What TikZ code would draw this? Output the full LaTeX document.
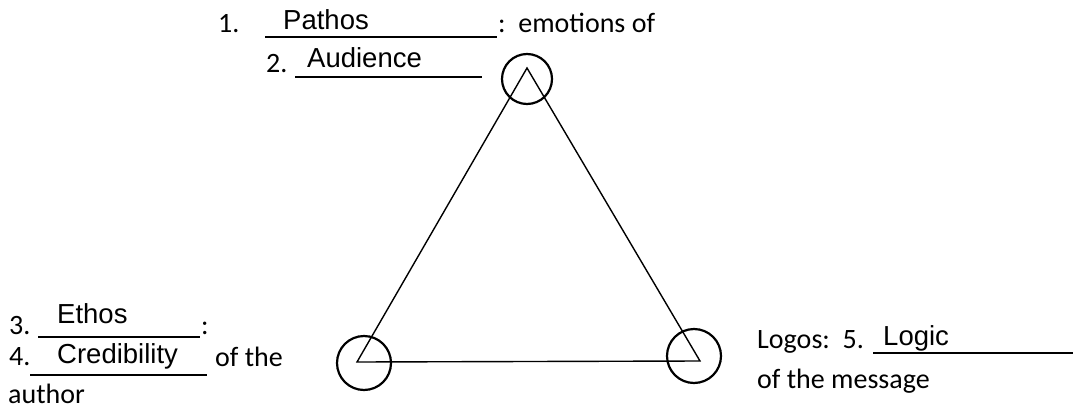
\documentclass[tikz,border=0pt]{standalone}
\usepackage{fontspec}
\setmainfont{Carlito}
\newfontfamily\arialfont{Liberation Sans}
\begin{document}
\begin{tikzpicture}[x=1pt,y=-1pt,
  body/.style={anchor=base west,inner sep=0pt,font=\fontsize{28}{30}\selectfont},
  answer/.style={anchor=base west,inner sep=0pt,font=\arialfont\fontsize{27.5}{30}\selectfont},
  blank/.style={line width=1.8pt},
  ring/.style={circle,draw,line width=2.2pt,minimum size=52pt,inner sep=0pt},
  edge/.style={line width=1.4pt,line join=miter}]
\useasboundingbox (0,0) rectangle (1073,415);
% triangle
\coordinate (A) at (527,68);
\coordinate (B) at (357,362);
\coordinate (C) at (700,361);
\draw[edge] (A) -- (B) -- (C) -- cycle;
\node[ring,minimum size=50pt] (ctop) at (527,79) {};
\node[ring,minimum size=54pt] (cleft) at (364,363) {};
\node[ring,minimum size=54pt] (cright) at (694,356) {};
% top labels
\node[body] (n1) at (218,32) {1.};
\node[answer] (pathos) at (283,29) {Pathos};
\coordinate (u1a) at (265,37); \coordinate (u1b) at (497,37);
\draw[blank] (u1a) -- (u1b);
\node[body] (emo) at (498,32) {:\ \ emotions of};
\node[body] (n2) at (266,72) {2.};
\node[answer] (aud) at (307,67) {Audience};
\coordinate (u2a) at (295,77); \coordinate (u2b) at (482,77);
\draw[blank] (u2a) -- (u2b);
% left labels
\node[body] (n3) at (9,334) {3.};
\node[answer] (ethos) at (57,323) {Ethos};
\coordinate (u3a) at (38,337); \coordinate (u3b) at (200,337);
\draw[blank] (u3a) -- (u3b);
\node[body] (col3) at (201,334) {:};
\node[body] (n4) at (9,365) {4.};
\node[answer] (cred) at (57,363) {Credibility};
\coordinate (u4a) at (30,375); \coordinate (u4b) at (207,375);
\draw[blank] (u4a) -- (u4b);
\node[body] (ofthe) at (215,366) {of the};
\node[body] (author) at (8,403) {author};
% right labels
\node[body] (logos) at (757,348) {Logos:\ \ 5.};
\node[answer] (logic) at (883,345) {Logic};
\coordinate (u5a) at (873,353); \coordinate (u5b) at (1073,353);
\draw[blank] (u5a) -- (u5b);
\node[body] (msg) at (757,388) {of the message};
\end{tikzpicture}
\end{document}
